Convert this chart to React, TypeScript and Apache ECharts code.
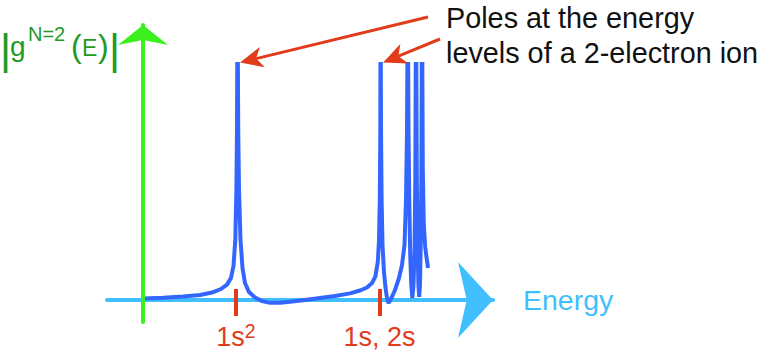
import React, { useEffect, useRef } from 'react';
import * as echarts from 'echarts';

// Energy (arbitrary units) and |g(E)|; poles exceed the plot top and are clipped
const energy = [
  0, 0.556, 1.111, 1.583, 1.917, 2.167, 2.333, 2.444, 2.514, 2.564, 2.594, 2.611, 2.625,
  2.645, 2.667, 2.708, 2.764, 2.833, 2.944, 3.111, 3.306, 3.528, 3.806, 4.083, 4.5, 4.917,
  5.333, 5.75, 6.028, 6.222, 6.361, 6.458, 6.522, 6.556, 6.578, 6.592, 6.6,
  6.611, 6.628, 6.653, 6.694, 6.736, 6.778, 6.819, 6.889, 7.0, 7.111, 7.194, 7.264, 7.306, 7.333, 7.356,
  7.375, 7.397, 7.422, 7.453, 7.481, 7.514, 7.542, 7.564, 7.583,
  7.606, 7.628, 7.65, 7.672, 7.694, 7.717, 7.733, 7.75,
  7.772, 7.8, 7.839, 7.878, 7.917,
];
const magnitude = [
  0.07, 0.1, 0.16, 0.23, 0.34, 0.5, 0.7, 1.0, 1.55, 2.73, 5.0, 7.7, 14,
  7.7, 5.0, 2.73, 1.45, 0.77, 0.36, 0.11, -0.05, -0.13, -0.13, -0.08, 0, 0.09,
  0.18, 0.3, 0.43, 0.57, 0.77, 1.09, 1.73, 2.73, 4.55, 7.7, 14,
  7.7, 4.55, 2.5, 1.27, 0.55, 0.09, -0.14, 0.05, 0.45, 1.0, 1.59, 2.5, 4.55, 7.7, 14,
  7.7, 4.55, 2.05, 0.68, 0.09, 0.68, 2.27, 5.45, 14,
  5.45, 2.27, 0.68, 0.14, 0.68, 2.73, 5.9, 14,
  5.9, 3.41, 2.41, 1.91, 1.45,
];
// Energy levels marked on the axis
const levelEnergies = [2.583, 6.57];
const levelLabels = ['1s{sup|2}', '1s, 2s'];
// Poles that the annotation arrows point at
const arrowPoles = [2.625, 6.6];

const X_MIN = -1;
const X_MAX = 9.722;
const Y_MIN = -1;
const Y_MAX_AXIS = 12.5;
const Y_MAX_PLOT = 10.727;

const FONT = "'Liberation Sans', Arial, Helvetica, sans-serif";
const RED = '#e03c1c';
const BLUE_AXIS = '#40bfff';
const GREEN_AXIS = '#3cf020';
const GREEN_TEXT = '#1f9a24';
const CURVE = '#3366ff';

function arrow(sx: number, sy: number, tx: number, ty: number) {
  const dx = tx - sx;
  const dy = ty - sy;
  const len = Math.sqrt(dx * dx + dy * dy);
  const ux = dx / len;
  const uy = dy / len;
  const nx = -uy;
  const ny = ux;
  const L = 23;
  const W = 10.5;
  const bx = tx - L * ux;
  const by = ty - L * uy;
  const mx = tx - 0.72 * L * ux;
  const my = ty - 0.72 * L * uy;
  return [
    {
      type: 'line',
      shape: { x1: sx, y1: sy, x2: mx, y2: my },
      style: { stroke: RED, lineWidth: 3 },
      z: 10,
    },
    {
      type: 'polygon',
      shape: {
        points: [
          [tx, ty],
          [bx + W * nx, by + W * ny],
          [mx, my],
          [bx - W * nx, by - W * ny],
        ],
      },
      style: { fill: RED },
      z: 10,
    },
  ];
}

function greenText(text: string, x: number, y: number, size: number) {
  return {
    type: 'text',
    x,
    y,
    style: {
      text,
      fontSize: size,
      fontFamily: FONT,
      fill: GREEN_TEXT,
      align: 'left',
      verticalAlign: 'middle',
    },
  };
}

export default function App() {
  const ref = useRef<HTMLDivElement>(null);
  useEffect(() => {
    const chart = echarts.init(ref.current!, null, { renderer: 'svg' });
    chart.setOption({
      animation: false,
      grid: [
        { left: 107, right: 276, top: 25, bottom: 32 },
        { left: 107, right: 276, top: 64, bottom: 32 },
      ],
      xAxis: [
        {
          type: 'value',
          gridIndex: 0,
          min: X_MIN,
          max: X_MAX,
          axisLine: {
            onZero: true,
            lineStyle: { color: BLUE_AXIS, width: 4 },
            symbol: ['none', 'arrow'],
            symbolSize: [57, 35],
          },
          axisTick: { show: false },
          axisLabel: { show: false },
          splitLine: { show: false },
          name: 'Energy',
          nameLocation: 'end',
          nameGap: 30,
          nameTextStyle: { color: BLUE_AXIS, fontSize: 28.5, fontFamily: FONT },
        },
        {
          type: 'value',
          gridIndex: 1,
          min: X_MIN,
          max: X_MAX,
          position: 'bottom',
          offset: -33,
          axisLine: { show: false, onZero: false },
          axisTick: {
            show: true,
            customValues: levelEnergies,
            length: 27,
            inside: false,
            lineStyle: { color: RED, width: 4 },
          },
          axisLabel: {
            show: true,
            customValues: levelEnergies,
            margin: 31,
            color: RED,
            fontSize: 27,
            fontFamily: FONT,
            lineHeight: 34,
            formatter: (v: number) => {
              let best = 0;
              levelEnergies.forEach((e, i) => {
                if (Math.abs(e - v) < Math.abs(levelEnergies[best] - v)) best = i;
              });
              return levelLabels[best];
            },
            rich: {
              sup: {
                color: RED,
                fontSize: 19.5,
                fontFamily: FONT,
                lineHeight: 21,
                padding: [0, 0, 13, 0],
                verticalAlign: 'middle',
              },
            },
          },
          splitLine: { show: false },
        },
      ],
      yAxis: [
        {
          type: 'value',
          gridIndex: 0,
          min: Y_MIN,
          max: Y_MAX_AXIS,
          z: 3,
          axisLine: {
            onZero: true,
            lineStyle: { color: GREEN_AXIS, width: 4 },
            symbol: ['none', 'arrow'],
            symbolSize: [37.5, 20],
          },
          axisTick: { show: false },
          axisLabel: { show: false },
          splitLine: { show: false },
        },
        {
          type: 'value',
          gridIndex: 1,
          min: Y_MIN,
          max: Y_MAX_PLOT,
          show: false,
          splitLine: { show: false },
        },
      ],
      series: [
        {
          type: 'line',
          xAxisIndex: 1,
          yAxisIndex: 1,
          data: energy.map((e, i) => [e, magnitude[i]]),
          showSymbol: false,
          symbol: 'none',
          clip: true,
          z: 2,
          lineStyle: { color: CURVE, width: 4 },
        },
      ],
    });

    const tips = arrowPoles.map((e) =>
      chart.convertToPixel({ xAxisIndex: 1, yAxisIndex: 1 }, [e, Y_MAX_PLOT]) as number[]
    );
    const starts = [
      [428, 17],
      [440, 39],
    ];
    const arrows = tips.flatMap((t, i) =>
      arrow(starts[i][0], starts[i][1], t[0] + 2.5, t[1] - 1.5)
    );

    chart.setOption({
      graphic: [
        {
          type: 'text',
          x: 446,
          y: 0,
          style: {
            text: 'Poles at the energy\nlevels of a 2-electron ion',
            fontSize: 28.8,
            lineHeight: 35,
            fontFamily: FONT,
            fill: '#111111',
            align: 'left',
            verticalAlign: 'top',
          },
        },
        greenText('|', 0, 49.2, 42.6),
        greenText('g', 10, 46.5, 28),
        greenText('N=2', 28, 33.5, 20),
        greenText('(', 71, 45.5, 32),
        greenText('E', 82, 48.4, 23),
        greenText(')', 98, 45.5, 32),
        greenText('|', 109, 49.2, 42.6),
        ...arrows,
      ],
    });

    return () => chart.dispose();
  }, []);

  return (
    <div
      ref={ref}
      style={{ position: 'fixed', left: 0, top: 0, width: 769, height: 354, background: '#ffffff' }}
    />
  );
}
